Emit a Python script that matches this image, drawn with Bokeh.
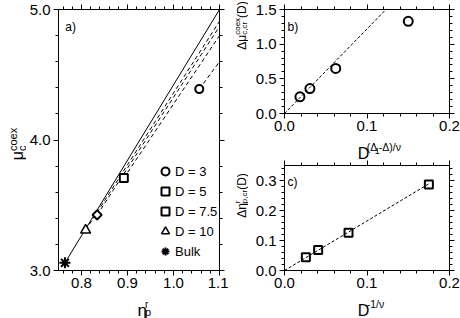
import numpy as np
from bokeh.plotting import figure
from bokeh.models import (Range1d, LinearAxis, FixedTicker, NumeralTickFormatter,
                          Label, Legend, LegendItem)
from bokeh.layouts import row, column
from bokeh.embed import file_html
from bokeh.resources import INLINE

# ---------------- data ----------------
# panel a: coexistence chemical potential vs reservoir packing fraction
a_labels = ["D = 3", "D = 5", "D = 7.5", "D = 10", "Bulk"]
a_eta = [1.056, 0.892, 0.834, 0.809, 0.764]
a_mu = [4.39, 3.709, 3.426, 3.309, 3.059]
a_fit_eta_end = [1.1, 1.1, 1.1, 1.1, 1.1]
a_fit_mu_end = [4.60, 4.80, 4.87, 4.91, 5.00]
a_xticks = [0.8, 0.9, 1.0, 1.1]
a_yticks = [3.0, 4.0, 5.0]

# panel b: shift of mu vs D^((Delta1-Delta)/nu)   (D = 10, 7.5, 5, 3)
b_x = [0.0187, 0.0308, 0.0621, 0.150]
b_y = [0.24, 0.36, 0.65, 1.33]
b_fit_x = [0.0, 0.2]
b_fit_y = [0.0, 2.44]
b_xticks = [0.0, 0.1, 0.2]
b_yticks = [0.0, 0.5, 1.0, 1.5]

# panel c: shift of eta vs D^(-1/nu)   (D = 10, 7.5, 5, 3)
c_x = [0.0259, 0.0408, 0.0776, 0.175]
c_y = [0.0444, 0.0685, 0.126, 0.287]
c_fit_x = [0.0, 0.175]
c_fit_y = [0.0, 0.289]
c_xticks = [0.0, 0.1, 0.2]
c_yticks = [0.0, 0.1, 0.2, 0.3]

FONT = "Liberation Sans"
TICK_FS = "15px"

# frames in page pixels (left, top, right, bottom); Bokeh's page has no body margin
FA = (55, 9, 219, 270)
FB = (284, 9, 449, 113)
FC = (284, 165, 449, 270)

W = {'Δ': 0.668, 'μ': 0.577, 'η': 0.556, 'c': 0.5, 'o': 0.556, 'e': 0.556, 'x': 0.5,
     ',': 0.278, 'r': 0.333, 'p': 0.556, '(': 0.333, ')': 0.333, 'D': 0.722,
     '1': 0.556, '-': 0.333, '/': 0.278, 'ν': 0.5, ' ': 0.278}


def tw(s, size):
    return sum(W.get(ch, 0.556) for ch in s) * size


def to_data(px, py, frame, xr, yr):
    l, t, r, b = frame
    x = xr[0] + (px - l) / (r - l) * (xr[1] - xr[0])
    y = yr[0] + (b - py) / (b - t) * (yr[1] - yr[0])
    return float(x), float(y)


def minor(lo, hi, step):
    return [float(v) for v in np.round(np.arange(lo, hi + 1e-9, step), 6)]


def make_fig(width, height, frame, page_x, page_y, xr, yr, xt, yt, xminor, yminor):
    l, t, r, b = frame
    p = figure(width=width, height=height, x_range=Range1d(*xr), y_range=Range1d(*yr),
               output_backend="svg", toolbar_location=None, title=None,
               min_border_left=l - page_x, min_border_right=page_x + width - r,
               min_border_top=t - page_y, min_border_bottom=page_y + height - b,
               x_axis_type=None, y_axis_type=None)
    p.outline_line_color = "black"
    p.outline_line_width = 1
    p.background_fill_color = "white"
    p.border_fill_color = "white"
    for loc, ticks, mt in (("below", xt, xminor), ("left", yt, yminor),
                           ("above", xt, xminor), ("right", yt, yminor)):
        ax = LinearAxis(ticker=FixedTicker(ticks=ticks, minor_ticks=mt),
                        formatter=NumeralTickFormatter(format="0.0"))
        ax.axis_line_color = "black"
        ax.major_tick_line_color = "black"
        ax.minor_tick_line_color = "black"
        ax.major_tick_in = 0
        ax.major_tick_out = 5
        ax.minor_tick_in = 0
        ax.minor_tick_out = 3
        ax.major_label_text_font = FONT
        if loc == "below":
            ax.major_label_text_font_size = TICK_FS
            ax.major_label_text_color = "black"
            ax.major_label_standoff = 2
        elif loc == "left":
            ax.major_label_text_font_size = TICK_FS
            ax.major_label_text_color = "black"
            ax.major_label_standoff = 3
        else:
            ax.major_label_text_font_size = "0px"
            ax.major_label_text_color = None
            ax.major_label_standoff = 0
        p.add_layout(ax, loc)
    return p


def label_fig(x0, y0, w, h):
    """A blank strip whose data space equals page pixels, used for axis titles."""
    f = figure(width=w, height=h, x_range=Range1d(x0, x0 + w), y_range=Range1d(y0 + h, y0),
               output_backend="svg", toolbar_location=None, min_border=0, title=None,
               x_axis_type=None, y_axis_type=None)
    f.outline_line_color = None
    f.background_fill_color = "white"
    f.border_fill_color = "white"
    return f


def put(fig, x, y, text, size, angle=0.0):
    fig.add_layout(Label(x=float(x), y=float(y), text=text, angle=angle, text_font=FONT,
                         text_font_size=f"{size}px", text_align="left",
                         text_baseline="alphabetic", text_color="black"))


def rich(fig, pieces, bx, by, rotated=False, center=None):
    """pieces: (text, size, up_shift, advance or None). Horizontal: start at (bx, by).
    Rotated: baseline at x=bx, text centred on y=center."""
    total = sum(tw(t, s) if a is None else a for t, s, u, a in pieces)
    if rotated:
        d = np.array([0.0, -1.0]); up = np.array([-1.0, 0.0])
        start = np.array([bx, center + total / 2])
        ang = np.pi / 2
    else:
        d = np.array([1.0, 0.0]); up = np.array([0.0, -1.0])
        start = np.array([bx, by])
        ang = 0.0
    pos = 0.0
    for t, s, u, a in pieces:
        q = start + d * pos + up * u
        put(fig, q[0], q[1], t, s, ang)
        pos += tw(t, s) if a is None else a


# ---------------- panel a ----------------
XA, YA = (0.75, 1.1), (3.0, 5.0)
pa = make_fig(202, 294, FA, 26, 0, XA, YA, a_xticks, a_yticks,
              minor(0.76, 1.1, 0.02), minor(3.0, 5.0, 0.2))

for i in range(len(a_eta)):
    dash = "solid" if a_labels[i] == "Bulk" else "4 3"
    pa.line([a_eta[i], a_fit_eta_end[i]], [a_mu[i], a_fit_mu_end[i]],
            line_color="black", line_width=1, line_dash=dash)

mk = {"D = 3": ("circle", 8, 0.0, 2), "D = 5": ("square", 8, 0.0, 2),
      "D = 7.5": ("square", 6.5, np.pi / 4, 2), "D = 10": ("triangle", 10, 0.0, 1.5),
      "Bulk": ("asterisk", 11, 0.0, 2)}
items = []
for i, lab in enumerate(a_labels):
    m, s, ang, lw = mk[lab]
    r = pa.scatter([a_eta[i]], [a_mu[i]], marker=m, size=s, angle=ang,
                   line_color="black", line_width=lw, fill_color="white")
    items.append(LegendItem(label=lab, renderers=[r]))

leg = Legend(items=items, location=(97, 9), orientation="vertical",
             glyph_width=20, glyph_height=20, label_height=20, spacing=0,
             label_standoff=-3, padding=0, margin=0, border_line_color=None,
             background_fill_alpha=0.0, label_text_font=FONT,
             label_text_font_size="13px", label_text_color="black")
pa.add_layout(leg, "center")

x, y = to_data(62, 26, FA, XA, YA)
pa.add_layout(Label(x=x, y=y, text="a)", text_font=FONT, text_font_size="12px",
                    text_baseline="alphabetic", text_color="black"))

la_y = label_fig(0, 0, 26, 318)
rich(la_y, [('μ', 16, 0, None), ('c', 11, -4, 0), ('coex', 11, 4.5, None)],
     17, None, rotated=True, center=143.5)

la_x = label_fig(26, 294, 202, 24)
rich(la_x, [('η', 17, 0, None), ('p', 11, -1.5, 0), ('r', 10, 6, None)], 125, 310)

# ---------------- panel b ----------------
XB, YB = (0.0, 0.2), (0.0, 1.5)
pb = make_fig(212, 137, FB, 248, 0, XB, YB, b_xticks, b_yticks,
              minor(0.0, 0.2, 0.02), minor(0.0, 1.5, 0.1))
pb.line(b_fit_x, b_fit_y, line_color="black", line_width=1, line_dash="3 2")
pb.scatter(b_x, b_y, marker="circle", size=9, line_color="black", line_width=2,
           fill_color=None)
x, y = to_data(287, 26, FB, XB, YB)
pb.add_layout(Label(x=x, y=y, text="b)", text_font=FONT, text_font_size="12px",
                    text_baseline="alphabetic", text_color="black"))

lbx = label_fig(248, 137, 212, 23)
rich(lbx, [('D', 16, 0, None), ('(Δ', 10.5, 6, None), ('1', 9, 2.5, None),
           ('-Δ)/ν', 10.5, 6, None)], 342, 152.5)

# ---------------- panel c ----------------
XC, YC = (0.0, 0.2), (0.0, 0.35)
pc = make_fig(212, 134, FC, 248, 160, XC, YC, c_xticks, c_yticks,
              minor(0.0, 0.2, 0.02), minor(0.0, 0.34, 0.02))
pc.line(c_fit_x, c_fit_y, line_color="black", line_width=1, line_dash="3 2")
pc.scatter(c_x, c_y, marker="square", size=8, line_color="black", line_width=2,
           fill_color=None)
x, y = to_data(287, 181, FC, XC, YC)
pc.add_layout(Label(x=x, y=y, text="c)", text_font=FONT, text_font_size="12px",
                    text_baseline="alphabetic", text_color="black"))

lcx = label_fig(248, 294, 212, 24)
rich(lcx, [('D', 16, 0, None), ('-1/ν', 10.5, 6, None)], 342, 309.5)

# rotated y titles of b and c
lb_y = label_fig(228, 0, 20, 160)
rich(lb_y, [('Δμ', 12, 0, None), ('c,cr', 8, -3, 0), ('coex', 8, 4, None),
            ('(D)', 12, 0, None)], 241, None, rotated=True, center=25)
lc_y = label_fig(228, 160, 20, 158)
rich(lc_y, [('Δη', 12, 0, None), ('p,cr', 8, -3, 0), ('r', 8, 4, tw('p,cr', 8)),
            ('(D)', 12, 0, None)], 241, None, rotated=True, center=195)

layout = row(la_y, column(pa, la_x, spacing=0), column(lb_y, lc_y, spacing=0),
             column(pb, lbx, pc, lcx, spacing=0), spacing=0)
open("out.html", "w").write(file_html(layout, INLINE))
